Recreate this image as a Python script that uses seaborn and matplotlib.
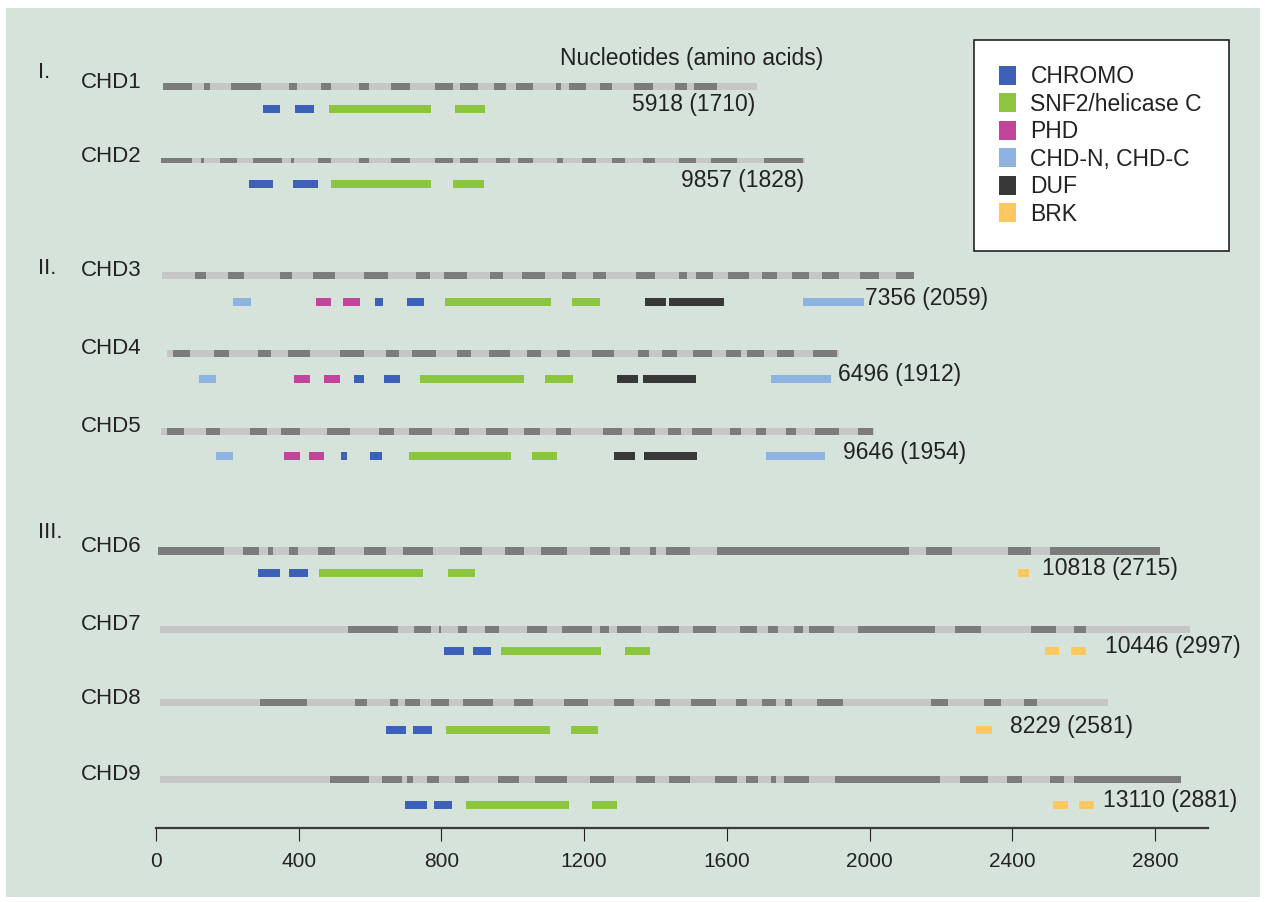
import matplotlib
matplotlib.use('Agg')
import matplotlib.pyplot as plt
import seaborn as sns
import pandas as pd
from matplotlib.patches import Patch, Rectangle

# ---- data (amino-acid positions) ----
genes = ['CHD1', 'CHD2', 'CHD3', 'CHD4', 'CHD5', 'CHD6', 'CHD7', 'CHD8', 'CHD9']
gene_start = [20, 14, 17, 31, 14, 6, 11, 11, 11]
gene_end = [1685, 1819, 2125, 1914, 2013, 2814, 2898, 2668, 2873]
size_labels = ['5918 (1710)', '9857 (1828)', '7356 (2059)', '6496 (1912)', '9646 (1954)',
               '10818 (2715)', '10446 (2997)', '8229 (2581)', '13110 (2881)']
groups = ['I.', 'II.', 'III.']
domain_names = ['CHROMO', 'SNF2/helicase C', 'PHD', 'CHD-N, CHD-C', 'DUF', 'BRK']

# darker exon blocks on each gene bar (start, end)
chd1_exons = [(20, 101), (135, 151), (210, 294), (373, 395), (462, 491), (569, 597), (659, 712),
              (782, 832), (852, 903), (948, 981), (1009, 1057), (1121, 1135), (1158, 1205),
              (1244, 1278), (1340, 1393), (1455, 1488), (1508, 1573)]
chd2_exons = [(14, 101), (126, 135), (179, 227), (272, 353), (378, 387), (454, 491), (569, 597),
              (659, 712), (782, 832), (852, 903), (953, 992), (1015, 1057), (1124, 1141),
              (1194, 1233), (1278, 1315), (1365, 1399), (1466, 1514), (1556, 1629), (1704, 1814)]
chd3_exons = [(109, 140), (202, 247), (348, 381), (440, 502), (583, 650), (729, 768), (807, 872),
              (936, 973), (1026, 1090), (1138, 1177), (1225, 1261), (1345, 1399), (1466, 1488),
              (1514, 1561), (1603, 1662), (1699, 1741), (1783, 1830), (1867, 1914), (1973, 2027),
              (2074, 2125)]
chd4_exons = [(48, 95), (163, 205), (286, 322), (370, 432), (516, 583), (645, 681), (718, 785),
              (844, 883), (933, 992), (1040, 1079), (1124, 1160), (1222, 1284), (1351, 1382),
              (1418, 1460), (1505, 1558), (1598, 1640), (1657, 1704), (1741, 1788), (1841, 1909)]
chd5_exons = [(31, 78), (140, 179), (263, 311), (350, 404), (479, 544), (625, 667), (709, 774),
              (838, 877), (925, 987), (1032, 1076), (1121, 1163), (1253, 1306), (1340, 1399),
              (1435, 1472), (1502, 1558), (1609, 1640), (1682, 1710), (1766, 1794), (1847, 1914),
              (1968, 2010)]
chd6_exons = [(6, 191), (244, 289), (314, 328), (373, 398), (454, 502), (583, 645), (692, 776),
              (852, 914), (978, 1032), (1079, 1152), (1217, 1273), (1301, 1329), (1385, 1402),
              (1430, 1497), (1573, 2111), (2158, 2231), (2388, 2453), (2506, 2814)]
chd7_exons = [(538, 678), (723, 771), (793, 799), (847, 872), (922, 961), (1040, 1096), (1138, 1222),
              (1245, 1270), (1292, 1359), (1407, 1466), (1505, 1570), (1637, 1685), (1715, 1743),
              (1788, 1814), (1830, 1900), (1968, 2184), (2240, 2312), (2453, 2523), (2573, 2607)]
chd8_exons = [(292, 423), (558, 591), (656, 678), (698, 740), (771, 821), (861, 945), (1003, 1057),
              (1144, 1211), (1284, 1340), (1399, 1441), (1500, 1570), (1626, 1657), (1699, 1738),
              (1763, 1783), (1853, 1926), (2172, 2220), (2321, 2369), (2433, 2469)]
chd9_exons = [(488, 597), (633, 690), (704, 720), (760, 793), (838, 877), (959, 1017), (1062, 1152),
              (1217, 1284), (1345, 1399), (1438, 1497), (1567, 1629), (1654, 1687), (1724, 1738),
              (1760, 1830), (1903, 2198), (2254, 2332), (2385, 2427), (2506, 2545), (2573, 2873)]

# protein domains (name, start, end)
chd1_domains = [('CHROMO', 300, 348), ('CHROMO', 390, 443), ('SNF2/helicase C', 485, 771),
                ('SNF2/helicase C', 838, 922)]
chd2_domains = [('CHROMO', 261, 328), ('CHROMO', 384, 454), ('SNF2/helicase C', 491, 771),
                ('SNF2/helicase C', 832, 919)]
chd3_domains = [('CHD-N, CHD-C', 216, 266), ('PHD', 448, 491), ('PHD', 524, 572), ('CHROMO', 614, 636),
                ('CHROMO', 704, 751), ('SNF2/helicase C', 810, 1107), ('SNF2/helicase C', 1166, 1245),
                ('DUF', 1371, 1430), ('DUF', 1438, 1592), ('CHD-N, CHD-C', 1814, 1985)]
chd4_domains = [('CHD-N, CHD-C', 121, 168), ('PHD', 387, 432), ('PHD', 471, 516), ('CHROMO', 555, 583),
                ('CHROMO', 639, 684), ('SNF2/helicase C', 740, 1031), ('SNF2/helicase C', 1090, 1169),
                ('DUF', 1292, 1351), ('DUF', 1365, 1514), ('CHD-N, CHD-C', 1724, 1892)]
chd5_domains = [('CHD-N, CHD-C', 168, 216), ('PHD', 359, 404), ('PHD', 429, 471), ('CHROMO', 519, 535),
                ('CHROMO', 600, 634), ('SNF2/helicase C', 709, 995), ('SNF2/helicase C', 1054, 1124),
                ('DUF', 1284, 1343), ('DUF', 1368, 1516), ('CHD-N, CHD-C', 1710, 1875)]
chd6_domains = [('CHROMO', 286, 348), ('CHROMO', 373, 426), ('SNF2/helicase C', 457, 748),
                ('SNF2/helicase C', 818, 894), ('BRK', 2416, 2447)]
chd7_domains = [('CHROMO', 807, 863), ('CHROMO', 889, 939), ('SNF2/helicase C', 967, 1247),
                ('SNF2/helicase C', 1315, 1385), ('BRK', 2492, 2531), ('BRK', 2565, 2607)]
chd8_domains = [('CHROMO', 645, 701), ('CHROMO', 720, 774), ('SNF2/helicase C', 813, 1104),
                ('SNF2/helicase C', 1163, 1239), ('BRK', 2298, 2343)]
chd9_domains = [('CHROMO', 698, 760), ('CHROMO', 779, 830), ('SNF2/helicase C', 869, 1158),
                ('SNF2/helicase C', 1222, 1292), ('BRK', 2514, 2556), ('BRK', 2587, 2629)]

ticks = [0, 400, 800, 1200, 1600, 2000, 2400, 2800]

# ---- layout (pixel rows of the original figure) ----
bar_y = [86, 160, 275, 353, 431, 551, 629, 702, 779]
dom_y = [109, 184, 302, 379, 456, 573, 651, 730, 805]
bar_h = [7, 5, 7, 7, 7, 8, 7, 7, 7]
group_y = [72, 268, 533]
label_x = [1334, 1472, 1987, 1912, 1926, 2483, 2660, 2394, 2654]

all_exons = [chd1_exons, chd2_exons, chd3_exons, chd4_exons, chd5_exons,
             chd6_exons, chd7_exons, chd8_exons, chd9_exons]
all_domains = [chd1_domains, chd2_domains, chd3_domains, chd4_domains, chd5_domains,
               chd6_domains, chd7_domains, chd8_domains, chd9_domains]

dom = pd.DataFrame([(g, n, s, e) for g, d in zip(genes, all_domains) for n, s, e in d],
                   columns=['gene', 'domain', 'start', 'end'])

colors = ['#3d60b8', '#8cc63e', '#c2459b', '#8fb3e0', '#383838', '#fcc85f']
pal = dict(zip(domain_names, sns.color_palette(colors)))

sns.set_theme(style='white')
plt.rcParams['font.family'] = ['Liberation Sans', 'DejaVu Sans']

W, H = 1269, 902
fig = plt.figure(figsize=(W / 100, H / 100), dpi=100, facecolor='white')
fig.patches.append(Rectangle((6 / W, 1 - 897 / H), 1254 / W, 889 / H, transform=fig.transFigure,
                             facecolor='#d6e3da', edgecolor='none', zorder=-10))

ax = fig.add_axes([0, 0, 1, 1])
ax.set_facecolor('none')
px = 2.8027  # amino acids per pixel
ax.set_xlim(-156 * px, (W - 156) * px)
ax.set_ylim(H, 0)

light, dark = '#c6c6c6', '#7c7c7c'
txt = '#222222'
fs = 16.5

for i, g in enumerate(genes):
    y, h = bar_y[i], bar_h[i]
    ax.broken_barh([(gene_start[i], gene_end[i] - gene_start[i])], (y - h / 2, h),
                   facecolors=light, edgecolor='none')
    ax.broken_barh([(s, e - s) for s, e in all_exons[i]], (y - h / 2, h),
                   facecolors=dark, edgecolor='none')
    sub = dom[dom['gene'] == g]
    ax.broken_barh(list(zip(sub['start'], sub['end'] - sub['start'])), (dom_y[i] - 4, 8),
                   facecolors=[pal[d] for d in sub['domain']], edgecolor='none')
    ax.text(-40, y - 4, g, ha='right', va='center', fontsize=16, color=txt)
    ax.text(label_x[i], dom_y[i] - 4, size_labels[i], ha='left', va='center',
            fontsize=fs, color=txt)

for lab, y in zip(groups, group_y):
    ax.text(-330, y, lab, ha='left', va='center', fontsize=16, color=txt)

ax.text(1132, 58, 'Nucleotides (amino acids)', ha='left', va='center', fontsize=fs, color=txt)

# bottom scale
for s in ['top', 'left', 'right']:
    ax.spines[s].set_visible(False)
ax.spines['bottom'].set_position(('data', 828))
ax.spines['bottom'].set_bounds(0, (1208 - 156) * px)
ax.spines['bottom'].set_color('#3a3a3a')
ax.spines['bottom'].set_linewidth(1.6)
ax.set_yticks([])
ax.set_xticks(ticks)
ax.set_xticklabels([str(t) for t in ticks])
ax.tick_params(axis='x', direction='out', length=9.5, width=0.8, color='#222222',
               labelsize=15, labelcolor=txt, pad=8, bottom=True)

handles = [Patch(facecolor=pal[n], edgecolor='none', label=n) for n in domain_names]
leg = ax.legend(handles=handles, loc='upper left', mode='expand',
                bbox_to_anchor=(974 / W, 1 - 40 / H - 0.01, 255 / W, 0.01),
                bbox_transform=fig.transFigure,
                borderaxespad=0, borderpad=1.1, fontsize=fs, handlelength=0.74, handleheight=0.92,
                handletextpad=0.62, labelspacing=0.195, frameon=True, fancybox=False,
                framealpha=1, facecolor='white', edgecolor='#222222')
leg.get_frame().set_linewidth(1.2)
for t in leg.get_texts():
    t.set_color(txt)

fig.savefig('out.png', dpi=100, facecolor='white')
